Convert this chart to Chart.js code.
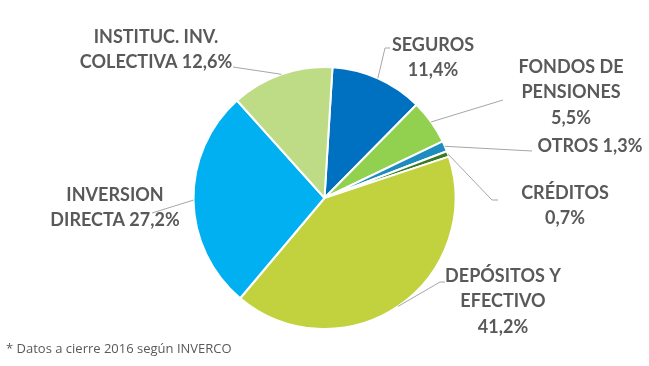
<!DOCTYPE html>
<html>
<head>
<meta charset="utf-8">
<script src="https://cdn.jsdelivr.net/npm/chart.js@4"></script>
<style>
  html, body { margin: 0; padding: 0; background: #fff; }
  #wrap { position: relative; width: 649px; height: 366px; }
  .note { position: absolute; left: 6px; top: 339px; font: 13px "Open Sans", sans-serif; color: #595959; }
</style>
</head>
<body>
<div id="wrap">
  <canvas id="pie" width="649" height="366"></canvas>
  <div class="note">* Datos a cierre 2016 según INVERCO</div>
</div>
<script>
const categories = ['SEGUROS', 'FONDOS DE PENSIONES', 'OTROS', 'CRÉDITOS', 'DEPÓSITOS Y EFECTIVO', 'INVERSION DIRECTA', 'INSTITUC. INV. COLECTIVA'];
const shares = [11.4, 5.5, 1.3, 0.7, 41.2, 27.2, 12.6];
const colors = ['#0070C0', '#92D050', '#1E8CBC', '#3C7A22', '#C2D23E', '#00B0F0', '#BEDC86'];

// label text lines + where the label sits, leader line elbow/end
const labelLines = [
  ['SEGUROS', '11,4%'],
  ['FONDOS DE', 'PENSIONES', '5,5%'],
  ['OTROS 1,3%'],
  ['CRÉDITOS', '0,7%'],
  ['DEPÓSITOS Y', 'EFECTIVO', '41,2%'],
  ['INVERSION', 'DIRECTA 27,2%'],
  ['INSTITUC. INV.', 'COLECTIVA 12,6%']
];
const labelPos = [[433, 45], [571, 67], [590, 146], [565, 193], [503, 276], [115, 195], [156, 37]];
const leaderEnd = [
  [[385, 48], [390, 48]],
  [[503, 100]],
  [[532, 151]],
  [[492, 200], [498, 200]],
  [[440, 282], [445, 282]],
  [[152, 213]],
  [[233, 67]]
];

const calloutPlugin = {
  id: 'callouts',
  afterDraw(chart) {
    const ctx = chart.ctx;
    const arcs = chart.getDatasetMeta(0).data;
    ctx.save();
    arcs.forEach((arc, i) => {
      const mid = (arc.startAngle + arc.endAngle) / 2;
      const r = arc.outerRadius;
      ctx.strokeStyle = '#A6A6A6';
      ctx.lineWidth = 1;
      ctx.beginPath();
      ctx.moveTo(arc.x + Math.cos(mid) * r, arc.y + Math.sin(mid) * r);
      leaderEnd[i].forEach(p => ctx.lineTo(p[0], p[1]));
      ctx.stroke();

      ctx.fillStyle = '#595959';
      ctx.font = 'bold 18px Lato, sans-serif';
      ctx.textAlign = 'center';
      ctx.textBaseline = 'middle';
      labelLines[i].forEach((t, k) => {
        ctx.fillText(t, labelPos[i][0], labelPos[i][1] + k * 25.5);
      });
    });
    ctx.restore();
  }
};

new Chart(document.getElementById('pie'), {
  type: 'pie',
  data: {
    labels: categories,
    datasets: [{
      data: shares,
      backgroundColor: colors,
      borderColor: '#ffffff',
      borderWidth: 2
    }]
  },
  options: {
    responsive: false,
    animation: false,
    rotation: 3.5,
    layout: { padding: { top: 66, bottom: 36 } },
    plugins: {
      legend: { display: false },
      tooltip: { enabled: false }
    }
  },
  plugins: [calloutPlugin]
});
</script>
</body>
</html>
